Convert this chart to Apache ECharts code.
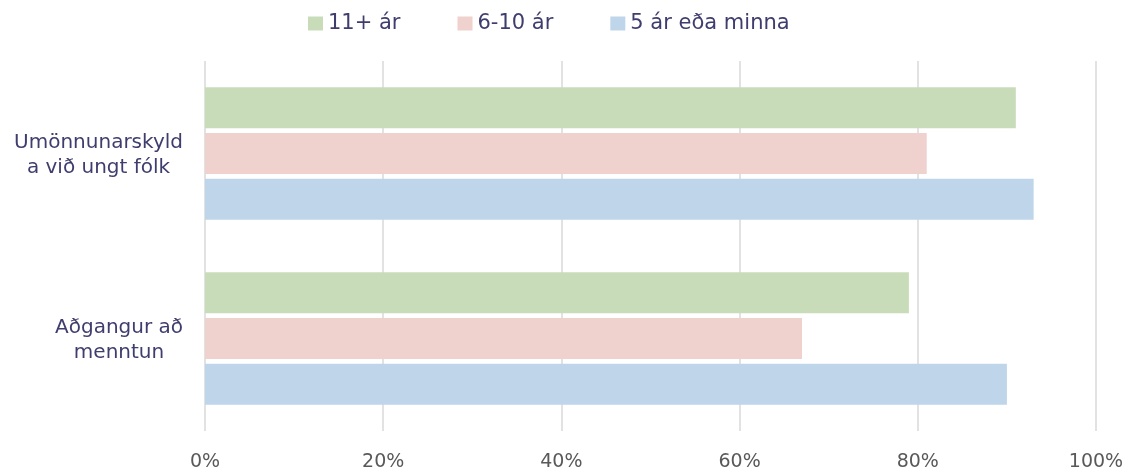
<!DOCTYPE html>
<html>
<head>
<meta charset="utf-8">
<script src="https://cdn.jsdelivr.net/npm/echarts@6/dist/echarts.min.js"></script>
<style>
  html, body { margin: 0; padding: 0; background: #ffffff; }
  #chart { width: 1127px; height: 472px; }
</style>
</head>
<body>
<div id="chart"></div>
<script>
// Category labels (line breaks as drawn on the axis)
const categories = ['Umönnunarskyld\na við ungt fólk', 'Aðgangur að\nmenntun'];
// Series names, in legend order
const seriesNames = ['11+ ár', '6-10 ár', '5 ár eða minna'];
// Shares per category, in percent
const values11plus = [91, 79];
const values6to10 = [81, 67];
const values5orLess = [93, 90];
// Value-axis tick labels
const xTicks = ['0%', '20%', '40%', '60%', '80%', '100%'];

const colors = ['#c9dcba', '#efd1ce', '#bfd5e9'];
const seriesValues = [values11plus, values6to10, values5orLess];
const FONT = 'DejaVu Sans';
const INK = '#3f3d6e';

const chart = echarts.init(document.getElementById('chart'), null, { renderer: 'canvas' });

chart.setOption({
  animation: false,
  backgroundColor: '#ffffff',
  textStyle: { fontFamily: FONT },
  legend: {
    top: 8,
    left: 303,
    itemWidth: 15,
    itemHeight: 14,
    itemGap: 57,
    icon: 'rect',
    textStyle: { fontFamily: FONT, fontSize: 21, color: INK },
    data: seriesNames
  },
  grid: { left: 205, right: 31, top: 61, bottom: 39, containLabel: false },
  xAxis: {
    type: 'value',
    min: 0,
    max: 100,
    interval: 20,
    axisLine: { show: false },
    axisTick: { show: false },
    splitLine: { show: true, lineStyle: { color: '#d9d9d9', width: 1.5 } },
    axisLabel: {
      margin: 22,
      fontFamily: FONT,
      fontSize: 19,
      color: '#595959',
      formatter: (v) => xTicks[Math.round(v / 20)]
    }
  },
  yAxis: {
    type: 'category',
    inverse: true,
    data: categories,
    axisLine: { show: false },
    axisTick: { show: false },
    splitLine: { show: false },
    axisLabel: {
      margin: 22,
      align: 'right',
      lineHeight: 25,
      padding: [4, 0, 0, 0],
      formatter: (v) => v.split('\n').map((l) => '{c|' + l + '}').join('\n'),
      rich: {
        c: { align: 'center', fontFamily: FONT, fontSize: 20, color: INK, lineHeight: 25 }
      }
    }
  },
  series: seriesNames.map((name, i) => ({
    name,
    type: 'bar',
    data: seriesValues[i],
    barGap: '12%',
    barCategoryGap: '28.5%',
    itemStyle: { color: colors[i] },
    emphasis: { disabled: true }
  }))
});
</script>
</body>
</html>
